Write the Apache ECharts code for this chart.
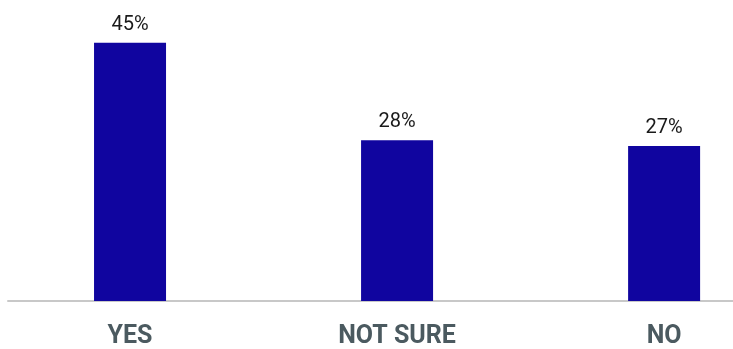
<!DOCTYPE html>
<html>
<head>
<meta charset="utf-8">
<script src="https://cdn.jsdelivr.net/npm/echarts@6/dist/echarts.min.js"></script>
<style>
  html, body { margin: 0; padding: 0; background: #fff; }
  #chart { width: 733px; height: 349px; }
</style>
</head>
<body>
<div id="chart"></div>
<script>
// 回答分布
var answers = ['YES', 'NOT SURE', 'NO'];
var shares = [45, 28, 27];

// 柱子位置用类目序号
var points = [];
for (var i = 0; i < answers.length; i++) {
    points.push([i, shares[i]]);
}

var option = {
    animation: false,
    grid: {
        left: 8,
        right: 0,
        top: 14,
        bottom: 43
    },
    xAxis: {
        type: 'value',
        min: -0.457,
        max: 2.258,
        splitLine: { show: false },
        axisLine: { show: true, lineStyle: { color: '#c8c8c8', width: 2 } },
        axisTick: { show: false },
        axisLabel: {
            customValues: [0, 1, 2],
            formatter: function (v) { return answers[Math.round(v)]; },
            margin: 23,
            color: '#4b5a60',
            fontFamily: 'Roboto',
            fontWeight: 'bold',
            fontSize: 25
        }
    },
    yAxis: {
        type: 'value',
        min: 0,
        max: 50,
        show: false,
        splitLine: { show: false }
    },
    series: [
        {
            name: 'share',
            type: 'bar',
            data: points,
            barWidth: 72,
            itemStyle: { color: '#10059f' },
            label: {
                show: true,
                position: 'top',
                distance: 8,
                formatter: function (p) { return p.value[1] + '%'; },
                color: '#1a1a1a',
                fontFamily: 'Roboto',
                fontSize: 20
            }
        }
    ]
};

var mychart = echarts.init(document.getElementById('chart'));
mychart.setOption(option);
</script>
</body>
</html>
